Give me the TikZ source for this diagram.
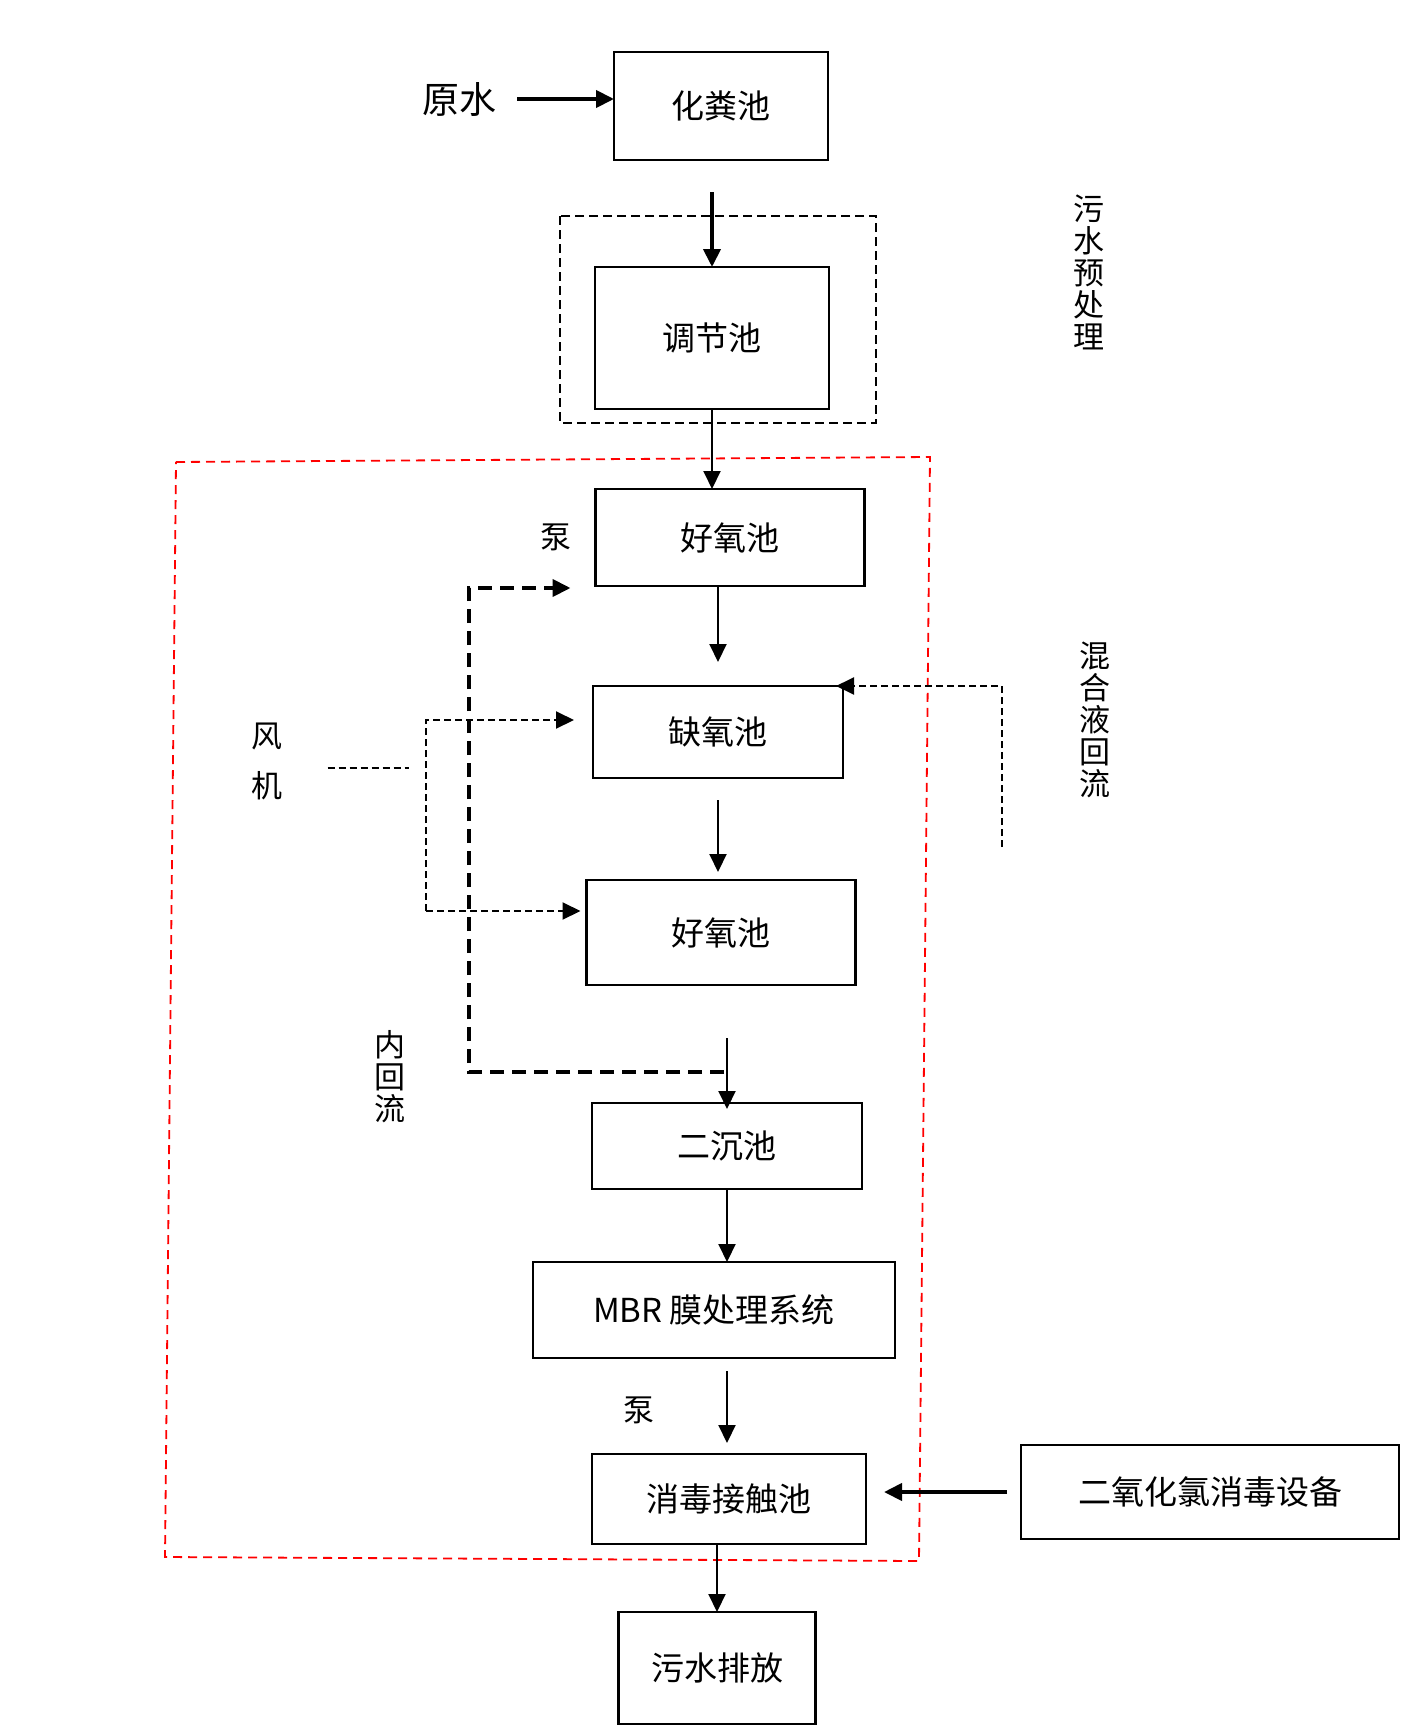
\documentclass[tikz,border=0pt]{standalone}
\usepackage{fontspec}
\setmainfont{Noto Sans CJK SC}
\usetikzlibrary{arrows.meta,positioning}
\tikzset{tank/.style={draw,line width=2.5pt,outer sep=0pt,align=center,font=\fontsize{33}{40}\selectfont},flow/.style={-{Triangle[length=18pt,width=17pt]},line width=2pt},heavy/.style={flow,line width=4pt},air/.style={flow,dash pattern=on 7pt off 4pt},backflow/.style={flow,line width=4pt,dash pattern=on 14pt off 8pt},lbl/.style={inner sep=2pt,align=center,font=\fontsize{31}{32}\selectfont}}

\begin{document}
\begin{tikzpicture}[x=1pt,y=-1pt]
\useasboundingbox (0,0) rectangle (1400,1726);
% frames
\draw[line width=1.8pt,dash pattern=on 9pt off 5pt] (560,216) rectangle (876,423);
\draw[red,line width=1.8pt,dash pattern=on 9pt off 6pt] (176,462) -- (930,457) -- (919,1561) -- (165,1557) -- cycle;
% main column
\node[tank,minimum width=214pt,minimum height=108pt] (septic) at (721,106) {化粪池};
\node[tank,minimum width=234pt,minimum height=142pt,below=107pt of septic,xshift=-9pt] (equal) {调节池};
\node[tank,minimum width=269pt,minimum height=97pt,below=80pt of equal,xshift=18pt] (aer1) {好氧池};
\node[tank,minimum width=250pt,minimum height=92pt,below=100pt of aer1,xshift=-12pt] (anox) {缺氧池};
\node[tank,minimum width=269pt,minimum height=105pt,below=102pt of anox,xshift=3pt] (aer2) {好氧池};
\node[tank,minimum width=270pt,minimum height=86pt,below=118pt of aer2,xshift=6pt] (settle) {二沉池};
\node[tank,minimum width=362pt,minimum height=96pt,below=73pt of settle,xshift=-13pt] (mbr) {MBR 膜处理系统};
\node[tank,minimum width=274pt,minimum height=90pt,below=96pt of mbr,xshift=15pt] (disinf) {消毒接触池};
\node[tank,minimum width=197pt,minimum height=112pt,below=68pt of disinf,xshift=-12pt] (outlet) {污水排放};
\node[tank,minimum width=378pt,minimum height=94pt,right=155pt of disinf,yshift=7pt] (clo2) {二氧化氯消毒设备};
% labels
\node[lbl,font=\fontsize{37}{40}\selectfont,left=115pt of septic,yshift=7pt] (raw) {原水};
\node[lbl,left=22pt of aer1] (pump1) {泵};
\node[lbl] (pump2) at (639,1410) {泵};
\node[lbl,font=\fontsize{31}{50}\selectfont] (fan) at (267,761) {风\\机};
\node[lbl] (inner) at (390,1077) {内\\回\\流};
\node[lbl] (pretag) at (1089,272) {污\\水\\预\\处\\理};
\node[lbl] (mixtag) at (1095,720) {混\\合\\液\\回\\流};
% flow
\draw[heavy,shorten <=18pt] (raw.east) -- (raw.east -| septic.west);
\draw[heavy,shorten <=32pt] (equal |- septic.south) -- (equal.north);
\draw[flow] (equal.south) -- (equal.south |- aer1.north);
\draw[flow,shorten >=24pt] (aer1.south -| anox) -- (anox.north);
\draw[flow,shorten <=22pt,shorten >=8pt] (anox.south) -- (anox.south |- aer2.north);
\draw[flow,shorten <=53pt,shorten >=-6pt] (settle |- aer2.south) -- (settle.north);
\draw[flow] (settle.south) -- (settle.south |- mbr.north);
\draw[flow,shorten <=13pt,shorten >=11pt] (settle |- mbr.south) -- (settle |- disinf.north);
\draw[flow] (outlet |- disinf.south) -- (outlet.north);
\draw[heavy,shorten <=14pt,shorten >=18pt] (clo2.west) -- (clo2.west -| disinf.east);
% returns and air
\coordinate (retfrom) at (724,1072);
\coordinate (retup) at (469,588);
\draw[backflow,shorten >=25pt] (retfrom) -| (retup) -- (retup -| aer1.west);
\coordinate (fanend) at (409,768);
\coordinate (airtop) at (426,720);
\coordinate (airbot) at (426,911);
\draw[air,-,shorten <=43pt] (fan.east |- fanend) -- (fanend);
\draw[air,shorten >=19pt] (airbot) -- (airtop) -- (airtop -| anox.west);
\draw[air,shorten >=6pt] (airbot) -- (airbot -| aer2.west);
\coordinate (mixfrom) at (1002,847);
\draw[air,shorten >=-7pt] (mixfrom) |- (anox.north east);
\end{tikzpicture}
\end{document}
